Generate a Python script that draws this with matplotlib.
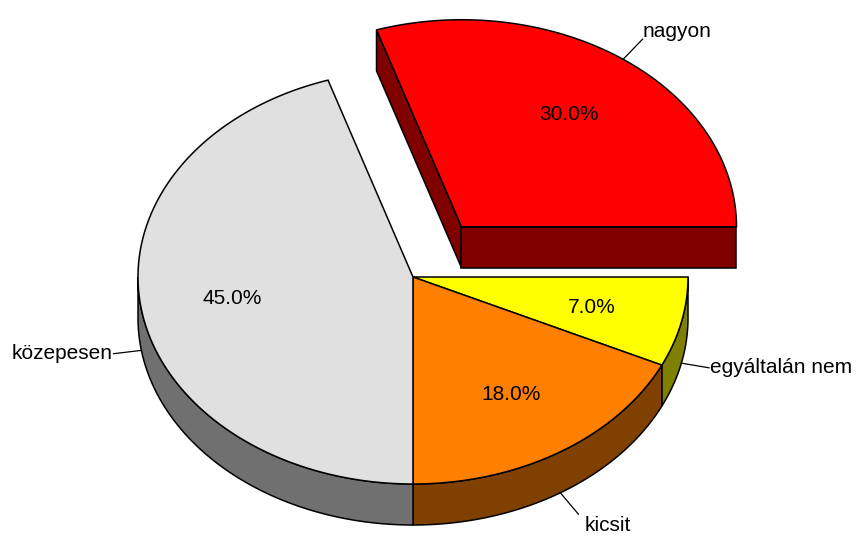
import numpy as np
import matplotlib
matplotlib.use("Agg")
import matplotlib.pyplot as plt
from matplotlib.patches import Polygon
from matplotlib import font_manager as fm

# ---- data ----
categories = ["egyáltalán nem", "kicsit", "közepesen", "nagyon"]
values = [7.0, 18.0, 45.0, 30.0]
pct_labels = ["7.0%", "18.0%", "45.0%", "30.0%"]
top_colors = ["#FFFF00", "#FF8000", "#E0E0E0", "#FF0000"]
side_colors = ["#808000", "#804000", "#707070", "#800000"]
explode = [0.0, 0.0, 0.0, 0.3]

# ---- layout ----
W, H = 856, 539
cx, cy = 413.0, 277.0
rx, ry = 275.0, 207.0
depth = 41.0
lw = 1.1

names = {f.name for f in fm.fontManager.ttflist}
if "Liberation Sans Narrow" in names:
    fam, fs = ["Liberation Sans Narrow", "DejaVu Sans"], 18
else:
    fam, fs = ["Liberation Sans", "DejaVu Sans"], 15

fig = plt.figure(figsize=(W / 100, H / 100), dpi=100)
ax = fig.add_axes([0, 0, 1, 1])
ax.set_xlim(0, W)
ax.set_ylim(H, 0)
ax.axis("off")

total = float(sum(values))
bounds = np.concatenate([[0.0], np.cumsum(values) / total * 2 * np.pi])

def rim(ox, oy, t, dz=0.0):
    return ox + rx * np.cos(t), oy + ry * np.sin(t) + dz

def slice_origin(i):
    mid = 0.5 * (bounds[i] + bounds[i + 1])
    return cx + explode[i] * rx * np.cos(mid), cy + explode[i] * ry * np.sin(mid)

def draw_walls(i, z):
    ox, oy = slice_origin(i)
    a1, a2 = bounds[i], bounds[i + 1]
    # radial faces visible if they face outward-downward
    for a, sign in ((a1, 1), (a2, -1)):
        # face at start angle a1 is visible if slice lies "above" it (clockwise side)
        nx = -np.sin(a) * sign
        ny = np.cos(a) * sign
        # outward normal of face (pointing away from slice); visible if it has downward screen component
        if -ny * 1.0 > 1e-6 and explode[i] > 0:
            x1, y1 = rim(ox, oy, a)
            pts = [(ox, oy), (x1, y1), (x1, y1 + depth), (ox, oy + depth)]
            ax.add_patch(Polygon(pts, closed=True, fc=side_colors[i], ec="black", lw=lw, zorder=z))
    # outer wall: visible portion where sin>=0 (angles 0..pi)
    lo, hi = max(a1, 0.0), min(a2, np.pi)
    if hi > lo:
        t = np.linspace(lo, hi, 120)
        xs, ys = rim(ox, oy, t)
        pts = list(zip(xs, ys)) + list(zip(xs[::-1], ys[::-1] + depth))
        ax.add_patch(Polygon(pts, closed=True, fc=side_colors[i], ec="black", lw=lw, zorder=z))

def draw_top(i, z):
    ox, oy = slice_origin(i)
    t = np.linspace(bounds[i], bounds[i + 1], 240)
    xs, ys = rim(ox, oy, t)
    pts = [(ox, oy)] + list(zip(xs, ys))
    ax.add_patch(Polygon(pts, closed=True, fc=top_colors[i], ec="black", lw=lw, zorder=z))

n = len(values)
back = [i for i in range(n) if explode[i] > 0]
front = [i for i in range(n) if explode[i] == 0]

z = 1
for i in back:
    draw_walls(i, z); z += 1
    draw_top(i, z); z += 1
for i in front:
    draw_walls(i, z)
z += 1
for i in front:
    draw_top(i, z)
z += 1

# percentage labels
for i in range(n):
    ox, oy = slice_origin(i)
    mid = 0.5 * (bounds[i] + bounds[i + 1])
    x, y = ox + 0.665 * rx * np.cos(mid), oy + 0.67 * ry * np.sin(mid)
    ax.text(x, y, pct_labels[i], ha="center", va="center", fontsize=fs,
            family=fam, color="black", zorder=z)

# category labels with leader lines
L = 28.0
for i in range(n):
    ox, oy = slice_origin(i)
    mid = 0.5 * (bounds[i] + bounds[i + 1])
    c, s = np.cos(mid), np.sin(mid)
    x0, y0 = rim(ox, oy, mid, depth if s > 0 else 0.0)
    d = np.array([rx * c, ry * s]); d /= np.linalg.norm(d)
    x1, y1 = x0 + L * d[0], y0 + L * d[1]
    ax.plot([x0, x1], [y0, y1], color="black", lw=0.9, zorder=z)
    ha = "left" if c >= 0 else "right"
    if s < -0.5:
        va, tx, ty = "bottom", x1, y1 + 2
    elif s > 0.5:
        va, tx, ty = "top", x1 + 6, y1 + 2
    else:
        va, tx, ty = "center", x1 + (1 if c >= 0 else -1), y1
    ax.text(tx, ty, categories[i], ha=ha, va=va, fontsize=fs, family=fam,
            color="black", zorder=z)

fig.savefig("out.png", dpi=100, facecolor="white")
